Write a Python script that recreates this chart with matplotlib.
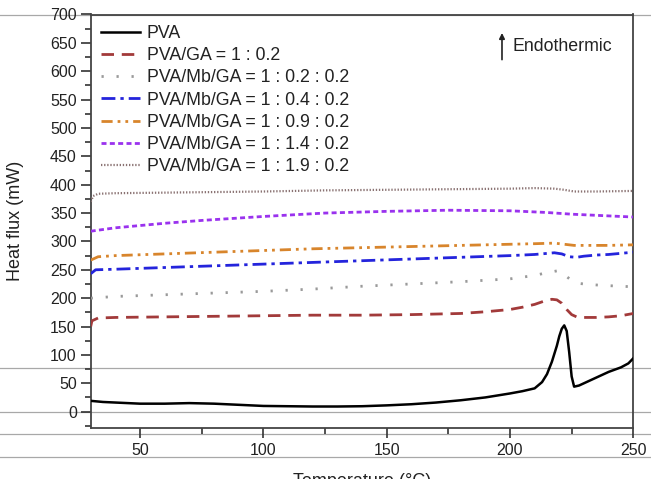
import matplotlib
matplotlib.use("Agg")
import matplotlib.pyplot as plt
from matplotlib.lines import Line2D
from matplotlib.ticker import MultipleLocator

plt.rcParams['font.family'] = ['Liberation Sans', 'DejaVu Sans']

# ---- data ----
labels = ["PVA", "PVA/GA = 1 : 0.2", "PVA/Mb/GA = 1 : 0.2 : 0.2",
          "PVA/Mb/GA = 1 : 0.4 : 0.2", "PVA/Mb/GA = 1 : 0.9 : 0.2",
          "PVA/Mb/GA = 1 : 1.4 : 0.2", "PVA/Mb/GA = 1 : 1.9 : 0.2"]

t_pva = [30, 35, 40, 50, 60, 70, 80, 90, 100, 110, 120, 130, 140, 150, 160, 170, 180, 190,
         200, 205, 210, 213, 215, 217, 219, 220, 221, 222, 223, 224, 225, 226, 228, 230,
         235, 240, 245, 248, 250]
y_pva = [19, 17, 16, 14, 14, 15, 14, 12, 10, 9.5, 9, 9, 9.5, 11, 13, 16, 20, 25,
         32, 36, 41, 52, 66, 88, 116, 133, 146, 152, 142, 105, 62, 44, 46, 50,
         60, 70, 78, 85, 94]

t_ga = [30, 30.5, 33, 40, 60, 80, 100, 120, 140, 160, 180, 190, 200, 205, 210, 214, 217,
        219, 221, 223, 225, 227, 230, 235, 240, 245, 250]
y_ga = [150, 160, 165, 166, 167, 168, 169, 170, 170, 171, 173, 176, 180, 184, 189, 195, 198,
        197, 191, 180, 171, 167, 166, 166, 167, 169, 173]

t_02 = [30, 40, 60, 80, 100, 120, 140, 160, 180, 200, 210, 215, 219, 221, 223, 225, 228,
        232, 240, 250]
y_02 = [200, 203, 206, 209, 212, 216, 221, 225, 229, 234, 240, 245, 248, 246, 238, 231, 226,
        224, 222, 220]

t_04 = [30, 32, 40, 60, 80, 100, 120, 140, 160, 180, 200, 210, 218, 221, 224, 227, 230,
        235, 240, 245, 250]
y_04 = [243, 250, 251, 254, 257, 260, 263, 266, 269, 272, 275, 277, 280, 278, 273, 272, 274,
        276, 277, 279, 281]

t_09 = [30, 33, 40, 60, 80, 100, 120, 140, 160, 180, 200, 210, 218, 222, 226, 230, 240, 250]
y_09 = [267, 273, 275, 278, 281, 284, 287, 289, 291, 293, 295, 296, 297, 295, 293, 293, 293, 294]

t_14 = [30, 40, 50, 60, 75, 100, 125, 150, 175, 200, 215, 225, 235, 250]
y_14 = [318, 324, 328, 332, 337, 344, 350, 353, 355, 354, 351, 348, 346, 343]

t_19 = [30, 31, 33, 40, 60, 80, 100, 125, 150, 175, 200, 210, 218, 222, 226, 235, 250]
y_19 = [370, 380, 384, 385, 386, 387, 388, 390, 391, 392, 393, 394, 393, 391, 388, 388, 389]

x_ticks = [50, 100, 150, 200, 250]
y_ticks = list(range(0, 701, 50))

# ---- figure ----
W, H = 651, 479
fig = plt.figure(figsize=(W / 100, H / 100), dpi=100)
ax = fig.add_axes([90.7 / W, 1 - 427.5 / H, (633.3 - 90.7) / W, (427.5 - 14.5) / H])
ax.set_facecolor('none')

# background page lines of the screenshot
for py in [14.5, 368.3, 411.7, 434.3, 456.7]:
    ax.add_artist(Line2D([0, 1], [1 - py / H, 1 - py / H], transform=fig.transFigure,
                         color='#a8a8a8', lw=0.9, zorder=0.5, clip_on=False))

styles = [
    dict(color='black', lw=1.8, ls='-'),
    dict(color='#a23a3a', lw=2.0, ls=(0, (4.5, 2.8))),
    dict(color='#9a9a9a', lw=2.0, ls=(0, (0.8, 4.6))),
    dict(color='#2424dc', lw=2.0, ls=(0, (5, 1.8, 1.2, 1.8))),
    dict(color='#d8852c', lw=2.0, ls=(0, (4, 1.8, 1, 1.8, 1, 1.8))),
    dict(color='#9a32ee', lw=2.0, ls=(0, (1.8, 1.2))),
    dict(color='#8a7272', lw=1.6, ls=(0, (0.6, 0.8))),
]
series = [(t_pva, y_pva), (t_ga, y_ga), (t_02, y_02), (t_04, y_04),
          (t_09, y_09), (t_14, y_14), (t_19, y_19)]
for (t, y), lab, st in zip(series, labels, styles):
    ax.plot(t, y, label=lab, zorder=3, **st)

ax.set_xlim(30, 250)
ax.set_ylim(-28, 700)
ax.set_xticks(x_ticks)
ax.set_yticks(y_ticks)
ax.xaxis.set_minor_locator(MultipleLocator(25))
ax.yaxis.set_minor_locator(MultipleLocator(25))
ax.tick_params(axis='both', which='major', direction='out', length=7, width=1.2,
               labelsize=11.5, colors='#333333', labelcolor='#222222')
ax.tick_params(axis='both', which='minor', direction='out', length=4, width=1.2,
               colors='#333333')
ax.tick_params(axis='x', pad=4)
ax.tick_params(axis='y', pad=3)
for sp in ax.spines.values():
    sp.set_linewidth(1.3)
    sp.set_color('#444444')

ax.set_ylabel('Heat flux (mW)', fontsize=13, color='#222222', labelpad=19)
ax.set_xlabel('Temperature (\u00b0C)', fontsize=13, color='#222222', labelpad=11)

leg = ax.legend(loc='upper left', frameon=False, fontsize=12.8, handlelength=2.2,
                handletextpad=0.35, labelspacing=0.29, borderaxespad=0.2,
                borderpad=0.4)
for txt in leg.get_texts():
    txt.set_color('#222222')

ax.annotate('', xy=(0.758, 0.962), xytext=(0.758, 0.884), xycoords='axes fraction',
            arrowprops=dict(arrowstyle='-|>', mutation_scale=8, lw=1.2, color='#222222'))
ax.text(0.778, 0.922, 'Endothermic', transform=ax.transAxes, fontsize=12.8,
        color='#222222', va='center', ha='left')

fig.savefig('out.png', dpi=100)
